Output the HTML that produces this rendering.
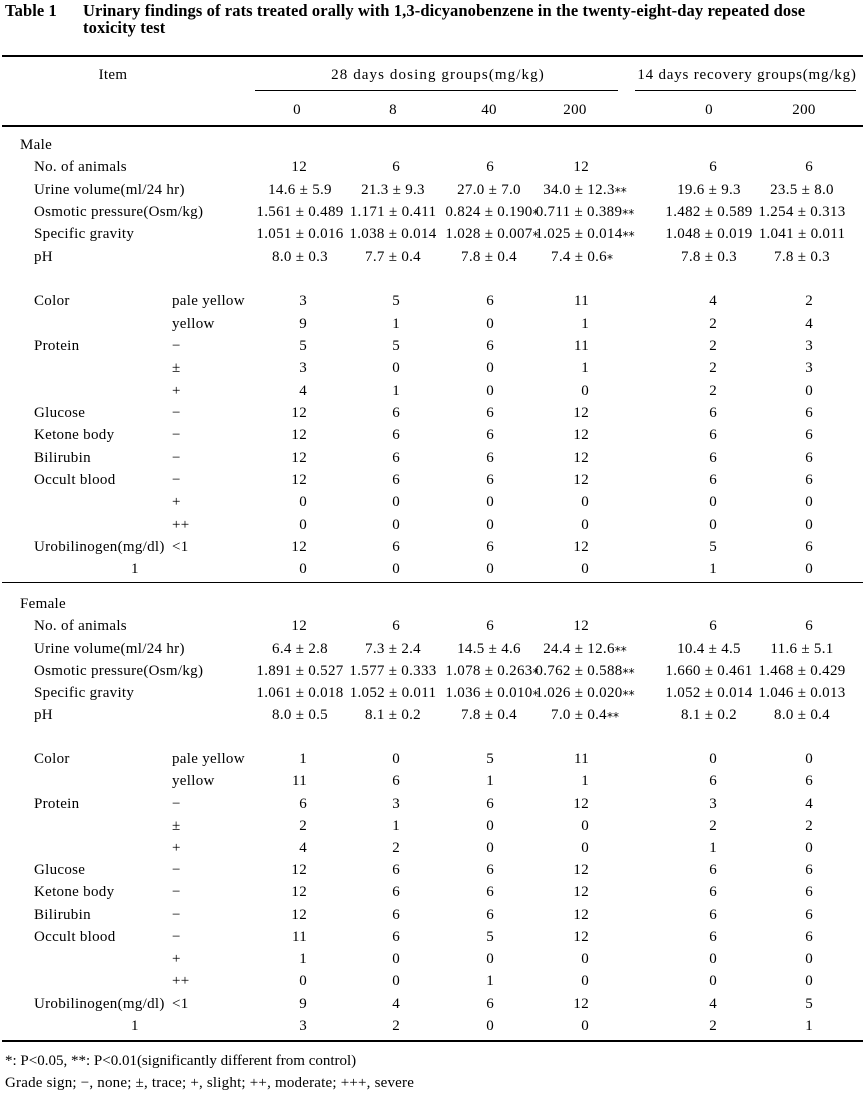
<!DOCTYPE html>
<html>
<head>
<meta charset="utf-8">
<style>
html,body{margin:0;padding:0;background:#fff;}
body{width:863px;height:1096px;position:relative;overflow:hidden;color:#000;
font-family:"Liberation Serif","Noto Serif CJK JP",serif;font-size:15px;letter-spacing:0.3px;}
.ttl{position:absolute;white-space:nowrap;font-weight:bold;font-size:16.5px;letter-spacing:0.1px;line-height:22px;}
.hl{position:absolute;background:#000;}
.r{position:absolute;left:0;width:863px;height:22px;line-height:22px;}
.r span{position:absolute;top:0;white-space:nowrap;}
.a{left:20px}.l{left:34px}.s{left:172px}.u{left:131px}
.v0{left:200px;width:200px;text-align:center}
.v1{left:293px;width:200px;text-align:center}
.v2{left:389px;width:200px;text-align:center}
.v3{left:479px;width:200px;text-align:center}
.v4{left:609px;width:200px;text-align:center}
.v5{left:702px;width:200px;text-align:center}
.n0{left:207px;width:100px;text-align:right}
.n1{left:300px;width:100px;text-align:right}
.n2{left:394px;width:100px;text-align:right}
.n3{left:489px;width:100px;text-align:right}
.n4{left:617px;width:100px;text-align:right}
.n5{left:713px;width:100px;text-align:right}
.r span.in{position:relative;}
.r span.in i{position:absolute;left:100%;top:-1px;font-style:normal;font-family:"DejaVu Sans",sans-serif;font-size:12px;letter-spacing:0;}
.h{left:0;width:200px;text-align:center}
.r span.hw{width:300px;text-align:center}
.fn{position:absolute;left:5px;white-space:nowrap;line-height:22px;letter-spacing:0.2px;}
</style>
</head>
<body>

<div class="ttl" style="left:5px;top:0">Table 1</div>
<div class="ttl" style="left:83px;top:0">Urinary findings of rats treated orally with 1,3-dicyanobenzene in the twenty-eight-day repeated dose</div>
<div class="ttl" style="left:83px;top:17px">toxicity test</div>

<div class="hl" style="left:2px;top:55px;width:861px;height:2px"></div>
<div class="hl" style="left:255px;top:90px;width:363px;height:1px"></div>
<div class="hl" style="left:635px;top:90px;width:221px;height:1px"></div>
<div class="hl" style="left:2px;top:125px;width:861px;height:2px"></div>
<div class="hl" style="left:2px;top:582px;width:861px;height:1px"></div>
<div class="hl" style="left:2px;top:1040px;width:861px;height:2px"></div>

<div class="r" style="top:64px">
<span class="h" style="left:13px">Item</span>
<span class="hw" style="left:288px;letter-spacing:1.1px">28 days dosing groups(mg/kg)</span>
<span class="hw" style="left:597px;letter-spacing:0.8px">14 days recovery groups(mg/kg)</span>
</div>
<div class="r" style="top:99px">
<span class="h" style="left:197px">0</span>
<span class="h" style="left:293px">8</span>
<span class="h" style="left:389px">40</span>
<span class="h" style="left:475px">200</span>
<span class="h" style="left:609px">0</span>
<span class="h" style="left:704px">200</span>
</div>

<!-- MALE -->
<div class="r" style="top:134px"><span class="a">Male</span></div>
<div class="r" style="top:156px"><span class="l">No. of animals</span>
<span class="n0">12</span><span class="n1">6</span><span class="n2">6</span><span class="n3">12</span><span class="n4">6</span><span class="n5">6</span></div>
<div class="r" style="top:179px"><span class="l">Urine volume(ml/24 hr)</span>
<span class="v0">14.6 ± 5.9</span><span class="v1">21.3 ± 9.3</span><span class="v2">27.0 ± 7.0</span><span class="v3"><span class="in">34.0 ± 12.3<i>**</i></span></span><span class="v4">19.6 ± 9.3</span><span class="v5">23.5 ± 8.0</span></div>
<div class="r" style="top:201px"><span class="l">Osmotic pressure(Osm/kg)</span>
<span class="v0">1.561 ± 0.489</span><span class="v1">1.171 ± 0.411</span><span class="v2"><span class="in">0.824 ± 0.190<i>*</i></span></span><span class="v3"><span class="in">0.711 ± 0.389<i>**</i></span></span><span class="v4">1.482 ± 0.589</span><span class="v5">1.254 ± 0.313</span></div>
<div class="r" style="top:223px"><span class="l">Specific gravity</span>
<span class="v0">1.051 ± 0.016</span><span class="v1">1.038 ± 0.014</span><span class="v2"><span class="in">1.028 ± 0.007<i>*</i></span></span><span class="v3"><span class="in">1.025 ± 0.014<i>**</i></span></span><span class="v4">1.048 ± 0.019</span><span class="v5">1.041 ± 0.011</span></div>
<div class="r" style="top:246px"><span class="l">pH</span>
<span class="v0">8.0 ± 0.3</span><span class="v1">7.7 ± 0.4</span><span class="v2">7.8 ± 0.4</span><span class="v3"><span class="in">7.4 ± 0.6<i>*</i></span></span><span class="v4">7.8 ± 0.3</span><span class="v5">7.8 ± 0.3</span></div>

<div class="r" style="top:290px"><span class="l">Color</span><span class="s">pale yellow</span>
<span class="n0">3</span><span class="n1">5</span><span class="n2">6</span><span class="n3">11</span><span class="n4">4</span><span class="n5">2</span></div>
<div class="r" style="top:313px"><span class="s">yellow</span>
<span class="n0">9</span><span class="n1">1</span><span class="n2">0</span><span class="n3">1</span><span class="n4">2</span><span class="n5">4</span></div>
<div class="r" style="top:335px"><span class="l">Protein</span><span class="s">−</span>
<span class="n0">5</span><span class="n1">5</span><span class="n2">6</span><span class="n3">11</span><span class="n4">2</span><span class="n5">3</span></div>
<div class="r" style="top:357px"><span class="s">±</span>
<span class="n0">3</span><span class="n1">0</span><span class="n2">0</span><span class="n3">1</span><span class="n4">2</span><span class="n5">3</span></div>
<div class="r" style="top:380px"><span class="s">+</span>
<span class="n0">4</span><span class="n1">1</span><span class="n2">0</span><span class="n3">0</span><span class="n4">2</span><span class="n5">0</span></div>
<div class="r" style="top:402px"><span class="l">Glucose</span><span class="s">−</span>
<span class="n0">12</span><span class="n1">6</span><span class="n2">6</span><span class="n3">12</span><span class="n4">6</span><span class="n5">6</span></div>
<div class="r" style="top:424px"><span class="l">Ketone body</span><span class="s">−</span>
<span class="n0">12</span><span class="n1">6</span><span class="n2">6</span><span class="n3">12</span><span class="n4">6</span><span class="n5">6</span></div>
<div class="r" style="top:447px"><span class="l">Bilirubin</span><span class="s">−</span>
<span class="n0">12</span><span class="n1">6</span><span class="n2">6</span><span class="n3">12</span><span class="n4">6</span><span class="n5">6</span></div>
<div class="r" style="top:469px"><span class="l">Occult blood</span><span class="s">−</span>
<span class="n0">12</span><span class="n1">6</span><span class="n2">6</span><span class="n3">12</span><span class="n4">6</span><span class="n5">6</span></div>
<div class="r" style="top:491px"><span class="s">+</span>
<span class="n0">0</span><span class="n1">0</span><span class="n2">0</span><span class="n3">0</span><span class="n4">0</span><span class="n5">0</span></div>
<div class="r" style="top:514px"><span class="s">++</span>
<span class="n0">0</span><span class="n1">0</span><span class="n2">0</span><span class="n3">0</span><span class="n4">0</span><span class="n5">0</span></div>
<div class="r" style="top:536px"><span class="l">Urobilinogen(mg/dl)</span><span class="s">&lt;1</span>
<span class="n0">12</span><span class="n1">6</span><span class="n2">6</span><span class="n3">12</span><span class="n4">5</span><span class="n5">6</span></div>
<div class="r" style="top:558px"><span class="u">1</span>
<span class="n0">0</span><span class="n1">0</span><span class="n2">0</span><span class="n3">0</span><span class="n4">1</span><span class="n5">0</span></div>

<!-- FEMALE -->
<div class="r" style="top:593px"><span class="a">Female</span></div>
<div class="r" style="top:615px"><span class="l">No. of animals</span>
<span class="n0">12</span><span class="n1">6</span><span class="n2">6</span><span class="n3">12</span><span class="n4">6</span><span class="n5">6</span></div>
<div class="r" style="top:638px"><span class="l">Urine volume(ml/24 hr)</span>
<span class="v0">6.4 ± 2.8</span><span class="v1">7.3 ± 2.4</span><span class="v2">14.5 ± 4.6</span><span class="v3"><span class="in">24.4 ± 12.6<i>**</i></span></span><span class="v4">10.4 ± 4.5</span><span class="v5">11.6 ± 5.1</span></div>
<div class="r" style="top:660px"><span class="l">Osmotic pressure(Osm/kg)</span>
<span class="v0">1.891 ± 0.527</span><span class="v1">1.577 ± 0.333</span><span class="v2"><span class="in">1.078 ± 0.263<i>*</i></span></span><span class="v3"><span class="in">0.762 ± 0.588<i>**</i></span></span><span class="v4">1.660 ± 0.461</span><span class="v5">1.468 ± 0.429</span></div>
<div class="r" style="top:682px"><span class="l">Specific gravity</span>
<span class="v0">1.061 ± 0.018</span><span class="v1">1.052 ± 0.011</span><span class="v2"><span class="in">1.036 ± 0.010<i>*</i></span></span><span class="v3"><span class="in">1.026 ± 0.020<i>**</i></span></span><span class="v4">1.052 ± 0.014</span><span class="v5">1.046 ± 0.013</span></div>
<div class="r" style="top:704px"><span class="l">pH</span>
<span class="v0">8.0 ± 0.5</span><span class="v1">8.1 ± 0.2</span><span class="v2">7.8 ± 0.4</span><span class="v3"><span class="in">7.0 ± 0.4<i>**</i></span></span><span class="v4">8.1 ± 0.2</span><span class="v5">8.0 ± 0.4</span></div>

<div class="r" style="top:748px"><span class="l">Color</span><span class="s">pale yellow</span>
<span class="n0">1</span><span class="n1">0</span><span class="n2">5</span><span class="n3">11</span><span class="n4">0</span><span class="n5">0</span></div>
<div class="r" style="top:770px"><span class="s">yellow</span>
<span class="n0">11</span><span class="n1">6</span><span class="n2">1</span><span class="n3">1</span><span class="n4">6</span><span class="n5">6</span></div>
<div class="r" style="top:793px"><span class="l">Protein</span><span class="s">−</span>
<span class="n0">6</span><span class="n1">3</span><span class="n2">6</span><span class="n3">12</span><span class="n4">3</span><span class="n5">4</span></div>
<div class="r" style="top:815px"><span class="s">±</span>
<span class="n0">2</span><span class="n1">1</span><span class="n2">0</span><span class="n3">0</span><span class="n4">2</span><span class="n5">2</span></div>
<div class="r" style="top:837px"><span class="s">+</span>
<span class="n0">4</span><span class="n1">2</span><span class="n2">0</span><span class="n3">0</span><span class="n4">1</span><span class="n5">0</span></div>
<div class="r" style="top:859px"><span class="l">Glucose</span><span class="s">−</span>
<span class="n0">12</span><span class="n1">6</span><span class="n2">6</span><span class="n3">12</span><span class="n4">6</span><span class="n5">6</span></div>
<div class="r" style="top:881px"><span class="l">Ketone body</span><span class="s">−</span>
<span class="n0">12</span><span class="n1">6</span><span class="n2">6</span><span class="n3">12</span><span class="n4">6</span><span class="n5">6</span></div>
<div class="r" style="top:904px"><span class="l">Bilirubin</span><span class="s">−</span>
<span class="n0">12</span><span class="n1">6</span><span class="n2">6</span><span class="n3">12</span><span class="n4">6</span><span class="n5">6</span></div>
<div class="r" style="top:926px"><span class="l">Occult blood</span><span class="s">−</span>
<span class="n0">11</span><span class="n1">6</span><span class="n2">5</span><span class="n3">12</span><span class="n4">6</span><span class="n5">6</span></div>
<div class="r" style="top:948px"><span class="s">+</span>
<span class="n0">1</span><span class="n1">0</span><span class="n2">0</span><span class="n3">0</span><span class="n4">0</span><span class="n5">0</span></div>
<div class="r" style="top:970px"><span class="s">++</span>
<span class="n0">0</span><span class="n1">0</span><span class="n2">1</span><span class="n3">0</span><span class="n4">0</span><span class="n5">0</span></div>
<div class="r" style="top:993px"><span class="l">Urobilinogen(mg/dl)</span><span class="s">&lt;1</span>
<span class="n0">9</span><span class="n1">4</span><span class="n2">6</span><span class="n3">12</span><span class="n4">4</span><span class="n5">5</span></div>
<div class="r" style="top:1015px"><span class="u">1</span>
<span class="n0">3</span><span class="n1">2</span><span class="n2">0</span><span class="n3">0</span><span class="n4">2</span><span class="n5">1</span></div>

<div class="fn" style="top:1050px;letter-spacing:0">*: P&lt;0.05, **: P&lt;0.01(significantly different from control)</div>
<div class="fn" style="top:1072px">Grade sign; −, none; ±, trace; +, slight; ++, moderate; +++, severe</div>

</body>
</html>
